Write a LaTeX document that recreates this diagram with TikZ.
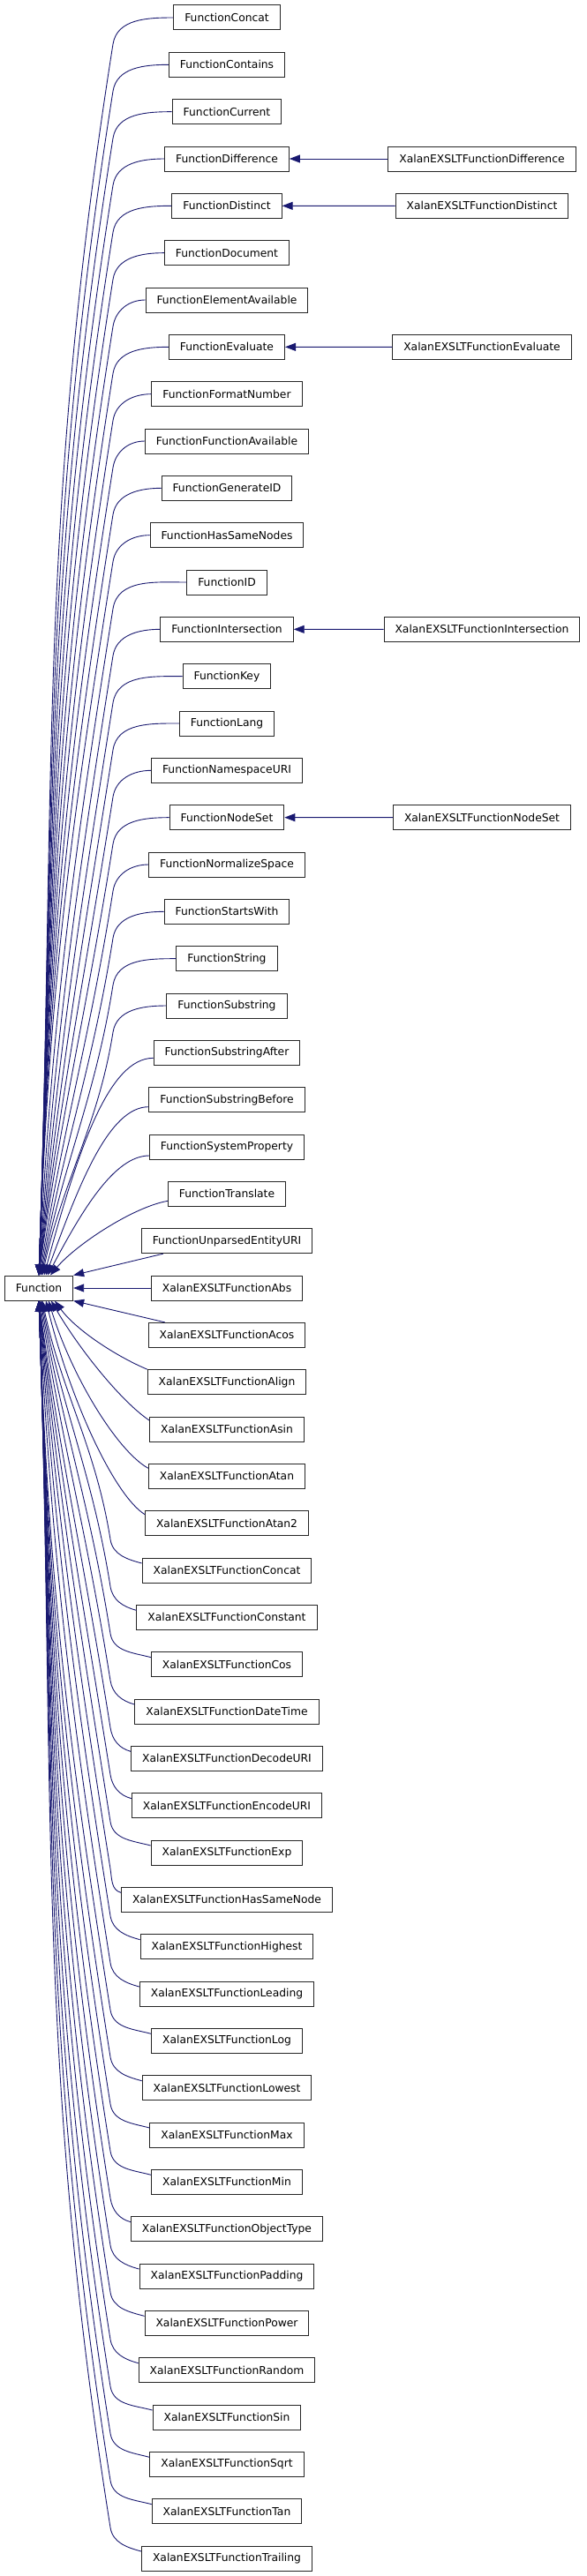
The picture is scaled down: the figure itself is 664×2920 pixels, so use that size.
\documentclass[tikz,border=0pt]{standalone}
\usepackage{fontspec}
\setmainfont{DejaVu Sans}
\usetikzlibrary{arrows.meta,calc}
\definecolor{edgeblue}{HTML}{191970}
\begin{document}
\begin{tikzpicture}[x=1pt,y=1pt,
  cls/.style={draw=black!85, line width=1pt, fill=white, inner xsep=12.5pt, inner ysep=0pt,
              minimum height=28pt, font=\fontsize{12.3}{14}\selectfont},
  edge/.style={draw=edgeblue, line width=0.9pt, -{Triangle[length=12pt,width=9pt]}}]
\useasboundingbox (0,0) rectangle (664,-2920);
% middle column
\foreach \k/\t in {1/FunctionConcat,2/FunctionContains,3/FunctionCurrent,4/FunctionDifference,
  5/FunctionDistinct,6/FunctionDocument,7/FunctionElementAvailable,8/FunctionEvaluate,
  9/FunctionFormatNumber,10/FunctionFunctionAvailable,11/FunctionGenerateID,12/FunctionHasSameNodes,
  13/FunctionID,14/FunctionIntersection,15/FunctionKey,16/FunctionLang,17/FunctionNamespaceURI,
  18/FunctionNodeSet,19/FunctionNormalizeSpace,20/FunctionStartsWith,21/FunctionString,
  22/FunctionSubstring,23/FunctionSubstringAfter,24/FunctionSubstringBefore,25/FunctionSystemProperty,
  26/FunctionTranslate,27/FunctionUnparsedEntityURI,28/XalanEXSLTFunctionAbs,29/XalanEXSLTFunctionAcos,
  30/XalanEXSLTFunctionAlign,31/XalanEXSLTFunctionAsin,32/XalanEXSLTFunctionAtan,33/XalanEXSLTFunctionAtan2,
  34/XalanEXSLTFunctionConcat,35/XalanEXSLTFunctionConstant,36/XalanEXSLTFunctionCos,
  37/XalanEXSLTFunctionDateTime,38/XalanEXSLTFunctionDecodeURI,39/XalanEXSLTFunctionEncodeURI,
  40/XalanEXSLTFunctionExp,41/XalanEXSLTFunctionHasSameNode,42/XalanEXSLTFunctionHighest,
  43/XalanEXSLTFunctionLeading,44/XalanEXSLTFunctionLog,45/XalanEXSLTFunctionLowest,
  46/XalanEXSLTFunctionMax,47/XalanEXSLTFunctionMin,48/XalanEXSLTFunctionObjectType,
  49/XalanEXSLTFunctionPadding,50/XalanEXSLTFunctionPower,51/XalanEXSLTFunctionRandom,
  52/XalanEXSLTFunctionSin,53/XalanEXSLTFunctionSqrt,54/XalanEXSLTFunctionTan,55/XalanEXSLTFunctionTrailing} {
  \pgfmathsetmacro\yy{-(20+(\k-1)*160/3)}
  \node[cls] (c\k) at (257,\yy) {\t};
}
% base class
\node[cls] (fn) at (44,-1460) {Function};
% right column
\node[cls] (r4) at (546,-180) {XalanEXSLTFunctionDifference};
\node[cls] (r5) at (546,-233.33) {XalanEXSLTFunctionDistinct};
\node[cls] (r8) at (546,-393.33) {XalanEXSLTFunctionEvaluate};
\node[cls] (r14) at (546,-713.33) {XalanEXSLTFunctionIntersection};
\node[cls] (r18) at (546,-926.67) {XalanEXSLTFunctionNodeSet};
\draw[edge] (r4.west) -- (c4.east);
\draw[edge] (r5.west) -- (c5.east);
\draw[edge] (r8.west) -- (c8.east);
\draw[edge] (r14.west) -- (c14.east);
\draw[edge] (r18.west) -- (c18.east);
% upper far edges
\foreach \k in {1,...,22} {
  \pgfmathsetmacro\dd{28-\k}
  \pgfmathsetmacro\yy{-(20+(\k-1)*160/3)}
  \pgfmathsetmacro\by{\yy-30}
  \pgfmathsetmacro\cd{0.3915*(\by+1446)}
  \pgfmathsetmacro\ina{min(88,72+\dd)}
  \pgfmathsetmacro\tx{max(0,10-\dd)}
  \coordinate (b\k) at (128,\by);
  \coordinate (t\k) at ($(fn.north)+(\tx,0)$);
  \draw[edge] (c\k.west) to[out=180,in=81] (b\k)
     .. controls ($(b\k)+(261:\cd)$) and ($(t\k)+(\ina:\cd)$) .. (t\k);
}
% upper near edges
\draw[edge] ($(c23.west)+(0,-6)$) to[out=180,in=75,out distance=50,in distance=150] ($(fn.north)+(6,0)$);
\draw[edge] ($(c24.west)+(0,-8)$) to[out=180,in=70,out distance=45,in distance=110] ($(fn.north)+(8,0)$);
\draw[edge] ($(c25.west)+(0,-10)$) to[out=180,in=62,out distance=40,in distance=80] ($(fn.north)+(10,0)$);
\draw[edge] ($(c26.west)+(0,-8)$) to[out=190,in=50,out distance=40,in distance=45] ($(fn.north)+(13,0)$);
\draw[edge] ($(c27.south west)+(25,0)$) -- (fn.north east);
\draw[edge] (c28.west) -- (fn.east);
\draw[edge] ($(c29.north west)+(19,0)$) -- (fn.south east);
% lower near edges
\draw[edge] (c30.north west) to[out=157,in=-54,out distance=40,in distance=40] ($(fn.south)+(18,0)$);
\draw[edge] ($(c31.west)+(0,10)$) to[out=146,in=-60,out distance=40,in distance=60] ($(fn.south)+(14,0)$);
\draw[edge] ($(c32.west)+(0,9)$) to[out=151,in=-73,out distance=40,in distance=90] ($(fn.south)+(11,0)$);
\draw[edge] ($(c33.west)+(0,10)$) to[out=148,in=-76,out distance=40,in distance=120] ($(fn.south)+(8,0)$);
% lower far edges
\foreach \k in {34,...,55} {
  \pgfmathsetmacro\dd{\k-28}
  \pgfmathsetmacro\yy{-(20+(\k-1)*160/3)}
  \pgfmathsetmacro\by{\yy+35}
  \pgfmathsetmacro\cd{0.3915*(-1474-\by)}
  \pgfmathsetmacro\ina{min(88,72+\dd)}
  \pgfmathsetmacro\tx{max(0,10-\dd)}
  \coordinate (b\k) at (125,\by);
  \coordinate (t\k) at ($(fn.south)+(\tx,0)$);
  \draw[edge] ($(c\k.west)+(0,8)$) to[out=165,in=-81] (b\k)
     .. controls ($(b\k)+(99:\cd)$) and ($(t\k)+(-\ina:\cd)$) .. (t\k);
}
\end{tikzpicture}
\end{document}
